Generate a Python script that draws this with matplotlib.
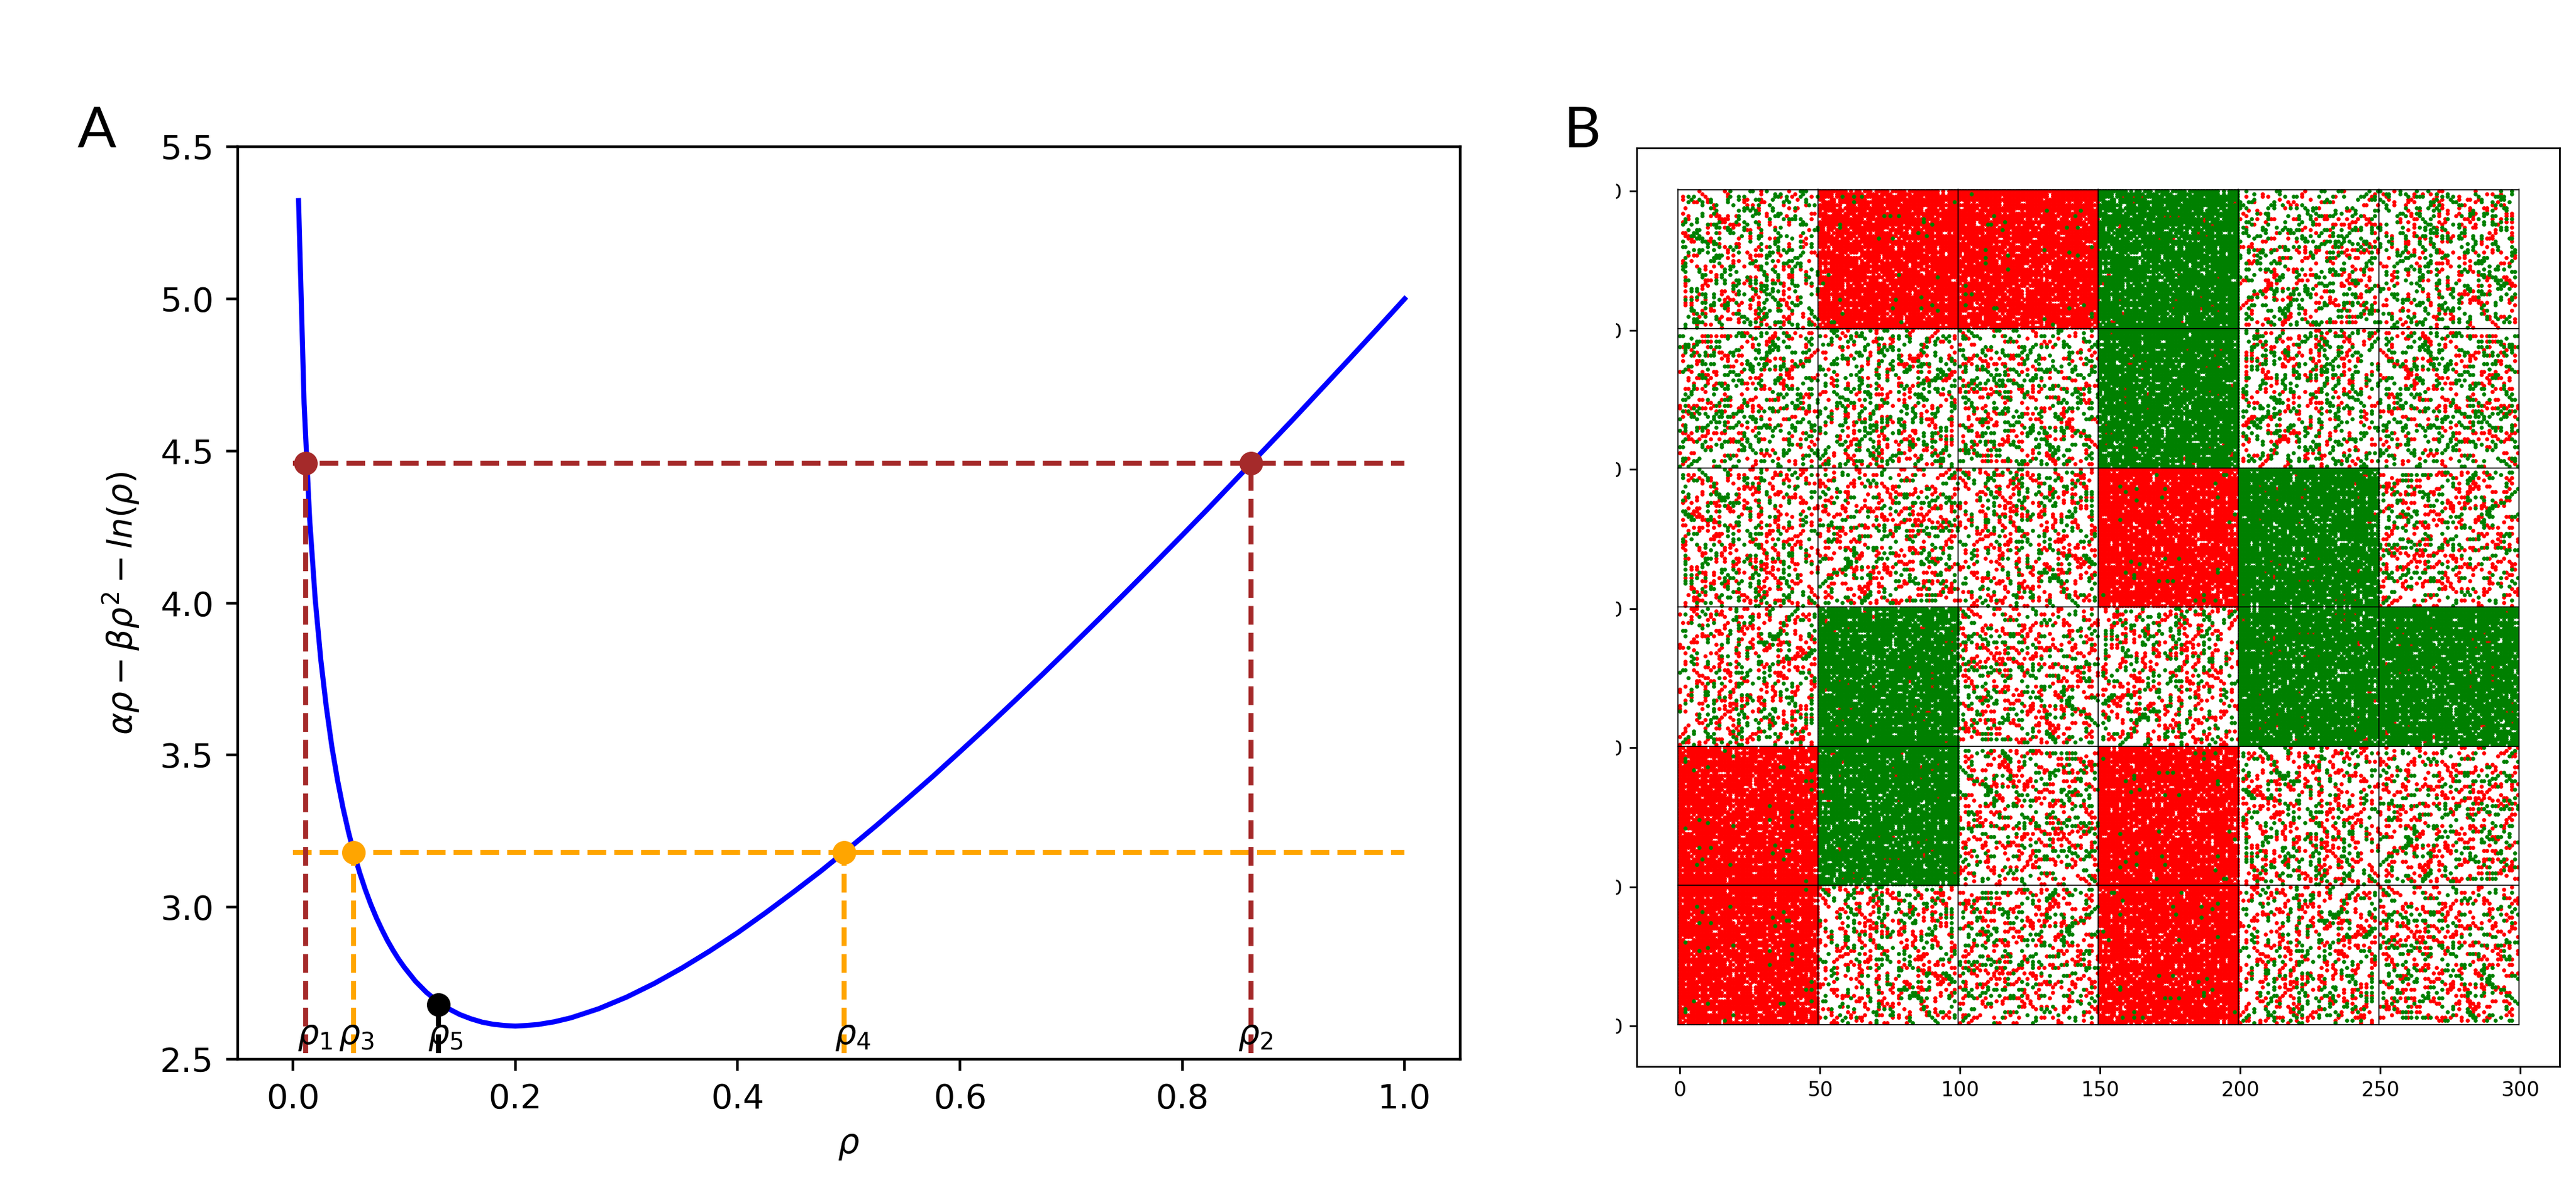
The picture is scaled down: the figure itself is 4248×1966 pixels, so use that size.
import numpy as np
import matplotlib
matplotlib.use("Agg")
import matplotlib.pyplot as plt
from matplotlib.patches import Rectangle
from matplotlib.transforms import Bbox

W, H = 4248, 1966
DPI = 400

# panel A, curve
rho = [0.005, 0.01, 0.015, 0.02, 0.025, 0.03, 0.035, 0.04, 0.045, 0.05, 0.055, 0.06, 0.065, 0.07, 0.075, 0.08,
       0.085, 0.09, 0.095, 0.10, 0.11, 0.12, 0.13, 0.14, 0.15, 0.16, 0.17, 0.18, 0.19, 0.20, 0.21, 0.22, 0.235,
       0.25, 0.275, 0.30, 0.325, 0.35, 0.375, 0.40, 0.425, 0.45, 0.475, 0.50, 0.525, 0.55, 0.575, 0.60, 0.625,
       0.65, 0.675, 0.70, 0.725, 0.75, 0.775, 0.80, 0.825, 0.85, 0.875, 0.90, 0.925, 0.95, 0.975, 1.0]
curve = [5.323, 4.655, 4.275, 4.012, 3.814, 3.657, 3.527, 3.419, 3.326, 3.246, 3.175, 3.113, 3.058, 3.009, 2.965, 2.926,
         2.890, 2.858, 2.829, 2.803, 2.757, 2.720, 2.690, 2.666, 2.647, 2.633, 2.622, 2.615, 2.611, 2.609, 2.611, 2.614, 2.623,
         2.636, 2.666, 2.704, 2.749, 2.800, 2.856, 2.916, 2.981, 3.049, 3.119, 3.193, 3.269, 3.348, 3.428, 3.511, 3.595,
         3.681, 3.768, 3.857, 3.947, 4.038, 4.130, 4.223, 4.317, 4.413, 4.509, 4.605, 4.703, 4.801, 4.900, 5.0]

level_brown = 4.46
level_orange = 3.18
level_black = 2.68
rho_brown = [0.0115, 0.862]
rho_orange = [0.0546, 0.496]
rho_black = 0.131
level_span = [0.0, 1.0]
vline_bottom = 2.52

label_text = [r"$\rho_1$", r"$\rho_3$", r"$\rho_5$", r"$\rho_4$", r"$\rho_2$"]
label_x = [0.004, 0.041, 0.121, 0.487, 0.85]
label_y = 2.55

# panel B, block layout from top row to bottom row
# M mixed, R mostly red, G mostly green
blocks = ["MRRGMM",
          "MMMGMM",
          "MMMRGM",
          "MGMMGG",
          "RGMRMM",
          "RMMRMM"]

# mixed texture read by eye from a 3x crop of the top left block, one list per row of sites
# values are crop pixels along the row, 14 crop pixels to a site
mixed_red = [
    [98, 230, 412, 552], [105, 232, 410, 580], [10, 120, 232, 510, 560, 660], [10, 135, 316, 342, 412, 595],
    [68, 80, 135, 232, 316, 400, 420], [135, 162, 330, 358, 524, 636], [24, 162, 398, 550, 594], [398, 580],
    [10, 162, 176, 440, 664, 678], [38, 150, 176, 190, 232, 274, 440, 536], [38, 190, 205, 218, 232, 448, 660],
    [10, 205, 218, 398, 454, 552], [150, 218, 260, 274, 288, 454, 552], [136, 218, 260, 385, 454],
    [330, 344, 412, 646], [10, 24, 136, 190, 412], [24, 38, 344, 606], [24, 38, 52, 150, 300, 344, 454, 482, 634],
    [38, 52, 136, 150, 164, 482, 620], [190, 274, 300, 550, 634], [218, 274, 300, 386, 440, 552, 620],
    [232, 384], [232, 330, 496, 662, 676], [38, 66, 80, 232, 344, 372, 386, 400, 510, 690], [232, 344],
    [10, 52, 260, 288, 358, 496, 650], [10, 162, 260], [80, 122, 164, 204, 316, 372, 386, 482, 524, 552],
    [122, 386, 524, 606], [122, 386, 636], [176, 428, 552, 566], [30, 176, 344, 372, 552, 566, 636],
    [122, 134, 148, 330, 456, 484], [24, 122, 260, 316, 400, 524, 636], [24, 108, 134, 344, 524, 664],
    [108, 260, 372, 524], [24, 204, 218, 260, 400, 524], [94, 204, 274, 372, 524, 690], [24, 52, 204, 358, 386, 524, 590],
    [80, 122, 218, 246, 260, 358, 510, 524, 594], [24, 52, 218, 302, 358, 538], [24, 52, 204, 288, 344, 386, 538],
    [24, 150, 232, 344, 484, 552], [108, 150, 164, 232, 300, 372], [66, 122, 232, 372, 414, 566, 622],
    [94, 206, 386, 524, 552, 622], [190, 232, 246, 288, 372, 414, 526, 540, 622], [300, 400, 512, 652],
    [80, 122, 150, 428, 470, 524, 678], [206, 372, 398, 620],
]
mixed_green = [
    [258, 345, 358, 440, 596, 610, 630], [482, 510, 618], [36, 68, 246, 288, 316, 470, 495, 536, 604, 685],
    [50, 92, 148, 232, 288, 372, 398, 468, 532, 636], [36, 105, 148, 232, 524, 540, 636],
    [105, 148, 232, 398, 455, 650, 665], [148, 316, 330, 358, 468, 580], [176, 288, 316, 356, 372, 468],
    [108, 162, 372, 385, 484, 510], [108, 300, 358, 470, 484, 578], [24, 80, 288, 300, 454, 496, 550, 564, 578, 606],
    [24, 80, 190, 274, 288, 372, 620], [10, 24, 136, 162, 176, 342, 385, 606, 620, 634], [176, 190, 232, 316, 510, 690],
    [38, 80, 94, 232, 246, 316, 400, 482, 666, 680], [66, 80, 176, 246, 260, 316, 494, 620],
    [52, 66, 94, 310, 398, 412, 508, 536, 662], [80, 94, 108, 190, 398, 496, 564],
    [10, 94, 108, 164, 344, 470, 496, 606], [108, 136, 164, 178, 400, 482, 662],
    [10, 24, 136, 164, 246, 274, 442, 496, 606, 662], [66, 94, 108, 136, 260, 412, 496, 524, 552, 566],
    [38, 94, 136, 288, 442, 468, 538, 620], [178, 190, 204, 428, 454, 606], [24, 164, 178, 190, 428, 580, 594],
    [150, 164, 372, 428, 552, 566], [24, 164, 344, 358, 428, 524, 538, 594, 608],
    [10, 24, 246, 260, 400, 578, 606], [10, 94, 218, 246, 400, 456, 566, 664], [24, 94, 218, 246, 414, 470, 566, 680],
    [94, 108, 204, 246, 414, 484, 636, 680], [108, 204, 330, 428, 484, 650],
    [24, 36, 178, 218, 274, 288, 344, 372, 428, 566, 636], [178, 218, 288, 344, 372, 456, 470, 498, 566, 664],
    [260, 274, 400, 414, 428, 566, 580], [52, 80, 260, 358, 400, 428, 468, 692],
    [52, 80, 288, 372, 414, 428, 496, 580, 682, 692], [80, 122, 164, 288, 316, 428, 442, 660],
    [80, 122, 164, 456, 604], [24, 52, 164, 344, 428, 482], [108, 122, 164, 232, 274, 414, 484, 566, 604],
    [150, 164, 218, 232, 484, 498, 580, 594], [52, 122, 218, 386, 414, 648], [52, 66, 400, 442, 484, 498, 566, 662],
    [52, 108, 274, 300, 386, 440, 662], [38, 122, 176, 302, 316, 414, 428, 676], [66, 80, 176, 330, 400, 690],
    [66, 80, 94, 108, 190, 316, 344, 372, 470, 484, 498, 540, 638], [24, 204, 344, 400, 566, 594, 650, 664],
    [24, 80, 344, 442, 510, 594, 690],
]

# holes and odd coloured points per row of a solid block, read from the green block in the top row
solid_holes = [
    [10, 12, 15, 19, 25, 31, 43, 45], [5, 16, 21, 26, 27, 33, 43, 45], [5, 23, 31, 37], [2, 3, 6, 17, 18],
    [0, 6, 29, 45], [8, 9, 13, 18, 23], [6, 8, 28, 37, 38, 42, 45], [1, 9, 17, 24, 33, 37, 43],
    [3, 4, 8, 13], [11, 20, 34, 36, 41], [0, 16, 43], [19, 39], [15, 30], [2, 6, 10, 25, 27, 33, 36],
    [2, 5, 11, 23, 24, 30, 32, 37], [4, 17, 19, 26, 32, 41, 44, 45, 47], [5, 9, 13, 28], [7, 12, 14, 27, 29, 41],
    [11, 31, 33, 35], [3, 15, 25], [4, 27, 30, 37, 42], [0, 2, 4, 16, 18, 27, 30, 42], [6, 10, 14, 37, 45],
    [9, 11, 12, 13, 14, 22, 39, 42, 45], [15, 22, 29], [1, 3, 14, 16, 23, 25, 30, 35], [14, 18, 21, 32, 39],
    [1, 3, 32, 37], [1, 11, 18, 26, 35, 39], [21, 27, 29, 36, 37, 41], [1, 2, 4, 17, 18, 20, 22, 37, 46],
    [9, 23, 27], [17, 21, 22, 47, 48], [9, 11, 15, 24], [0, 1, 9, 12, 16, 25, 28, 34, 41], [9, 35, 39],
    [4, 7, 20, 26, 31, 33, 40], [15, 33], [4, 9, 25, 45], [0, 4, 11, 13, 21, 39], [25, 42, 45], [7, 18],
    [9, 11, 14], [8, 16, 24, 36], [25, 31, 39, 45], [21, 24, 26, 30, 38, 40], [4, 30, 37],
    [0, 2, 13, 15, 21, 30], [1, 6, 31, 43, 45], [],
]
solid_odd = [
    [], [], [8, 12, 15], [], [12, 48], [], [], [], [], [23, 25, 28], [37], [37], [7, 40], [7], [], [35], [38],
    [21, 26], [], [], [], [], [], [], [], [], [], [], [], [], [3, 28], [42], [], [1], [], [], [], [], [36],
    [7, 27], [], [40], [26, 36], [42], [8], [], [], [4, 5, 29], [], [],
]

x_ticks_a = [0.0, 0.2, 0.4, 0.6, 0.8, 1.0]
y_ticks_a = [2.5, 3.0, 3.5, 4.0, 4.5, 5.0, 5.5]
ticks_b = [0, 50, 100, 150, 200, 250, 300]


def box(left, top, right, bottom):
    return [left / W, 1 - bottom / H, (right - left) / W, (bottom - top) / H]


def mixed_tile():
    # 0 empty, 1 red, 2 green
    t = np.zeros((50, 50), dtype=int)
    for j in range(50):
        for x in mixed_red[j]:
            t[j, min(round(x / 14), 49)] = 1
        for x in mixed_green[j]:
            t[j, min(round(x / 14), 49)] = 2
    # reading by eye left long vertical runs that the picture does not have
    for j in range(2, 50):
        for i in range(50):
            if t[j, i] and t[j, i] == t[j - 1, i] == t[j - 2, i]:
                k = (i + 2) % 50
                if t[j, k] == 0:
                    t[j, k] = t[j, i]
                t[j, i] = 0
    return t


def solid_tile(main, odd):
    t = np.full((50, 50), main)
    for j in range(50):
        t[j, solid_holes[j]] = 0
        t[j, solid_odd[j]] = odd
    return t


def variant(t, n):
    # same texture turned around, so that the blocks do not look alike
    t = np.rot90(t, n % 4)
    if n % 8 >= 4:
        t = t[:, ::-1]
    if n >= 8 and t.sum() < 1500:
        t = np.where(t > 0, 3 - t, 0)
    return t


plt.rcParams["font.family"] = "DejaVu Sans"
fig = plt.figure(figsize=(W / DPI, H / DPI), dpi=DPI)

# A
ax = fig.add_axes(box(391.5, 242, 2408, 1747))
ax.plot(rho, curve, color="blue")
ax.plot(level_span, [level_brown, level_brown], "--", color="brown")
ax.plot(level_span, [level_orange, level_orange], "--", color="orange")
for r in rho_brown:
    ax.plot([r, r], [vline_bottom, level_brown], "--", color="brown")
    ax.plot(r, level_brown, "o", color="brown")
for r in rho_orange:
    ax.plot([r, r], [vline_bottom, level_orange], "--", color="orange")
    ax.plot(r, level_orange, "o", color="orange")
ax.plot([rho_black, rho_black], [vline_bottom, level_black], "--", color="black")
ax.plot(rho_black, level_black, "o", color="black")
for s, x in zip(label_text, label_x):
    ax.text(x, label_y, s, fontsize=10, ha="left", va="baseline")
ax.set_xlim(-0.05, 1.05)
ax.set_ylim(2.5, 5.5)
ax.set_xticks(x_ticks_a)
ax.set_yticks(y_ticks_a)
ax.set_xlabel(r"$\rho$")
ax.set_ylabel(r"$\alpha\rho-\beta\rho^2-ln(\rho)$", labelpad=5.4)

# B
bx = fig.add_axes(box(2699, 244, 4221, 1759))
tiles = {"M": mixed_tile(), "R": solid_tile(1, 2), "G": solid_tile(2, 1)}
seen = {"M": 0, "R": 0, "G": 0}
xs, ys, cs = [], [], []
for r, row in enumerate(blocks):
    for c, kind in enumerate(row):
        t = variant(tiles[kind], seen[kind])
        seen[kind] += 1
        jj, ii = np.nonzero(t)
        xs.append(50 * c + ii)
        ys.append(50 * (5 - r) + 50 - jj)
        cs.append(t[jj, ii])
xs, ys, cs = np.concatenate(xs), np.concatenate(ys), np.concatenate(cs)

frame = Rectangle((-0.6, 0.4), 300, 300.2, transform=bx.transData)
for val, col in [(1, "red"), (2, "green")]:
    pts = bx.scatter(xs[cs == val], ys[cs == val], s=1.5, color=col, linewidths=0)
    pts.set_clip_path(frame)
for k in range(7):
    bx.plot([50 * k - 0.6] * 2, [0.4, 300.6], color="black", lw=0.3, zorder=3)
    bx.plot([-0.6, 299.4], [50 * k + 0.5] * 2, color="black", lw=0.3, zorder=3)
bx.set_xlim(-15.4, 314)
bx.set_ylim(-14.6, 315.5)
bx.set_xticks(ticks_b)
bx.set_yticks(ticks_b)
bx.tick_params(labelsize=6, length=2.2, width=0.5, pad=2)
for s in bx.spines.values():
    s.set_linewidth(0.5)
# the left part of these labels is cut away in the reference
cut = Bbox([[2665, 0], [W, H]])
for lab in bx.get_yticklabels():
    lab.set_clip_box(cut)
    lab.set_clip_on(True)

fig.text(128 / W, 1 - 243 / H, "A", fontsize=17, family="Lato", ha="left", va="baseline")
fig.text(2578 / W, 1 - 243 / H, "B", fontsize=17, family="Lato", ha="left", va="baseline")

fig.savefig("out.png", dpi=DPI)
